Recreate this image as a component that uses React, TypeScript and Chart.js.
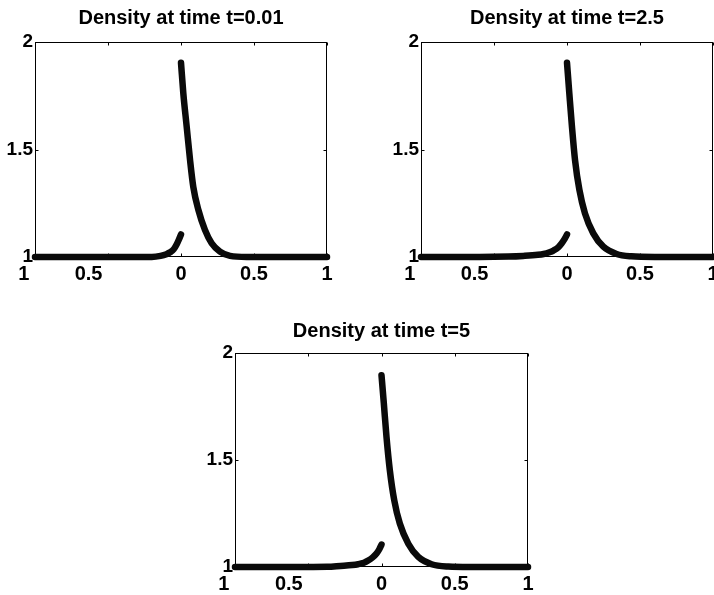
import React, { useEffect, useRef } from 'react';
import { Chart, registerables } from 'chart.js';

Chart.register(...registerables);

// ---- data ----
const titles = ['Density at time t=0.01', 'Density at time t=2.5', 'Density at time t=5'];
const xTickLabels = ['1', '0.5', '0', '0.5', '1'];
const yTickLabels = ['1', '1.5', '2'];

// t = 0.01
const left1X = [-1, -0.5, -0.2, -0.14, -0.1, -0.075, -0.05, -0.03, -0.015, 0];
const left1Y = [1, 1, 1.0, 1.005, 1.013, 1.022, 1.036, 1.058, 1.08, 1.105];
const right1X = [0, 0.016, 0.039, 0.062, 0.084, 0.119, 0.164, 0.21, 0.267, 0.336, 0.45, 1];
const right1Y = [1.904, 1.761, 1.606, 1.451, 1.327, 1.219, 1.126, 1.064, 1.025, 1.005, 1.0, 1.0];

// t = 2.5
const left2X = [-1, -0.6, -0.4, -0.3, -0.2, -0.16, -0.12, -0.093, -0.06, -0.036, -0.015, 0];
const left2Y = [1, 1, 1.002, 1.005, 1.01, 1.014, 1.022, 1.03, 1.045, 1.064, 1.085, 1.105];
const right2X = [0, 0.016, 0.034, 0.055, 0.085, 0.123, 0.18, 0.249, 0.34, 0.44, 0.6, 1];
const right2Y = [1.904, 1.761, 1.606, 1.451, 1.312, 1.203, 1.11, 1.048, 1.014, 1.003, 1.0, 1.0];

// t = 5
const left3X = [-1, -0.6, -0.37, -0.28, -0.2, -0.16, -0.12, -0.091, -0.06, -0.034, -0.015, 0];
const left3Y = [1, 1, 1.001, 1.005, 1.009, 1.013, 1.02, 1.03, 1.045, 1.063, 1.083, 1.105];
const right3X = [0, 0.016, 0.034, 0.057, 0.087, 0.125, 0.183, 0.251, 0.342, 0.456, 0.6, 1];
const right3Y = [1.896, 1.764, 1.609, 1.452, 1.312, 1.203, 1.109, 1.047, 1.013, 1.002, 1.0, 1.0];

// ---- styles ----
const FONT = '"Liberation Sans", Arial, Helvetica, sans-serif';
const INK = '#0a0a0a';
const xLabelTrail = [4, 7, 0, 0, 0];

const framePlugin = {
  id: 'matlabFrame',
  beforeDatasetsDraw(chart: any) {
    const { ctx, chartArea: a, scales } = chart;
    const l = Math.round(a.left) + 0.5;
    const r = Math.round(a.right) - 0.5;
    const t = Math.round(a.top) + 0.5;
    const b = Math.round(a.bottom) - 0.5;
    ctx.save();
    ctx.strokeStyle = '#000';
    ctx.lineWidth = 1;
    ctx.strokeRect(l, t, r - l, b - t);
    const len = 3;
    ctx.beginPath();
    scales.x.ticks.forEach((tk: any) => {
      const px = Math.round(scales.x.getPixelForValue(tk.value)) + 0.5;
      ctx.moveTo(px, t);
      ctx.lineTo(px, t + len);
      ctx.moveTo(px, b);
      ctx.lineTo(px, b - len);
    });
    scales.y.ticks.forEach((tk: any) => {
      const py = Math.round(scales.y.getPixelForValue(tk.value)) + 0.5;
      ctx.moveTo(l, py);
      ctx.lineTo(l + len, py);
      ctx.moveTo(r, py);
      ctx.lineTo(r - len, py);
    });
    ctx.stroke();
    ctx.restore();
  },
};

type PanelProps = {
  left: number;
  top: number;
  width: number;
  height: number;
  title: string;
  titlePadTop: number;
  titlePadBottom: number;
  lx: number[];
  ly: number[];
  rx: number[];
  ry: number[];
};

function Panel(p: PanelProps) {
  const ref = useRef<HTMLCanvasElement>(null);
  useEffect(() => {
    if (!ref.current) return;
    const mk = (xs: number[], ys: number[]) => xs.map((x, i) => ({ x, y: ys[i] }));
    const lineStyle = {
      borderColor: INK,
      borderWidth: 6.5,
      borderCapStyle: 'round' as const,
      borderJoinStyle: 'round' as const,
      pointRadius: 0,
      cubicInterpolationMode: 'monotone' as const,
      fill: false,
      clip: false as const,
    };
    const chart = new Chart(ref.current, {
      type: 'line',
      data: {
        datasets: [
          { data: mk(p.lx, p.ly), ...lineStyle },
          { data: mk(p.rx, p.ry), ...lineStyle },
        ],
      },
      options: {
        responsive: false,
        animation: false,
        devicePixelRatio: 1,
        layout: { padding: 0 },
        plugins: {
          legend: { display: false },
          tooltip: { enabled: false },
          title: {
            display: true,
            text: p.title,
            color: '#000',
            font: { family: FONT, size: 20, weight: 'bold', lineHeight: 1.2 },
            padding: { top: p.titlePadTop, bottom: p.titlePadBottom },
          },
        },
        scales: {
          x: {
            type: 'linear',
            min: -1,
            max: 1,
            grid: { display: false, drawTicks: false },
            border: { display: false },
            afterFit: (s: any) => {
              s.height = 33;
            },
            ticks: {
              stepSize: 0.5,
              padding: 5,
              color: '#000',
              maxRotation: 0,
              autoSkip: false,
              font: { family: FONT, size: 20, weight: 'bold' },
              callback: (_v: any, i: number) => xTickLabels[i] + ' '.repeat(xLabelTrail[i] || 0),
            },
          },
          y: {
            type: 'linear',
            min: 1,
            max: 2,
            grid: { display: false, drawTicks: false },
            border: { display: false },
            afterFit: (s: any) => {
              s.width = 35;
            },
            ticks: {
              stepSize: 0.5,
              padding: 2,
              color: '#000',
              font: { family: FONT, size: 19, weight: 'bold' },
              callback: (_v: any, i: number) => yTickLabels[i],
            },
          },
          yRight: {
            type: 'linear',
            position: 'right',
            min: 1,
            max: 2,
            grid: { display: false, drawTicks: false },
            border: { display: false },
            ticks: { display: false },
            afterFit: (s: any) => {
              s.width = 35;
            },
          },
        },
      },
      plugins: [framePlugin],
    });
    return () => chart.destroy();
  }, []);
  return (
    <canvas
      ref={ref}
      width={p.width}
      height={p.height}
      style={{ position: 'absolute', left: p.left, top: p.top, width: p.width, height: p.height }}
    />
  );
}

export default function App() {
  return (
    <div
      style={{
        position: 'absolute',
        left: 0,
        top: 0,
        width: 714,
        height: 595,
        overflow: 'hidden',
        background: '#fff',
      }}
    >
      <Panel left={0} top={0} width={362} height={290} title={titles[0]} titlePadTop={6} titlePadBottom={12}
        lx={left1X} ly={left1Y} rx={right1X} ry={right1Y} />
      <Panel left={386} top={0} width={362} height={290} title={titles[1]} titlePadTop={6} titlePadBottom={12}
        lx={left2X} ly={left2Y} rx={right2X} ry={right2Y} />
      <Panel left={200} top={311} width={363} height={289} title={titles[2]} titlePadTop={8} titlePadBottom={10}
        lx={left3X} ly={left3Y} rx={right3X} ry={right3Y} />
    </div>
  );
}
